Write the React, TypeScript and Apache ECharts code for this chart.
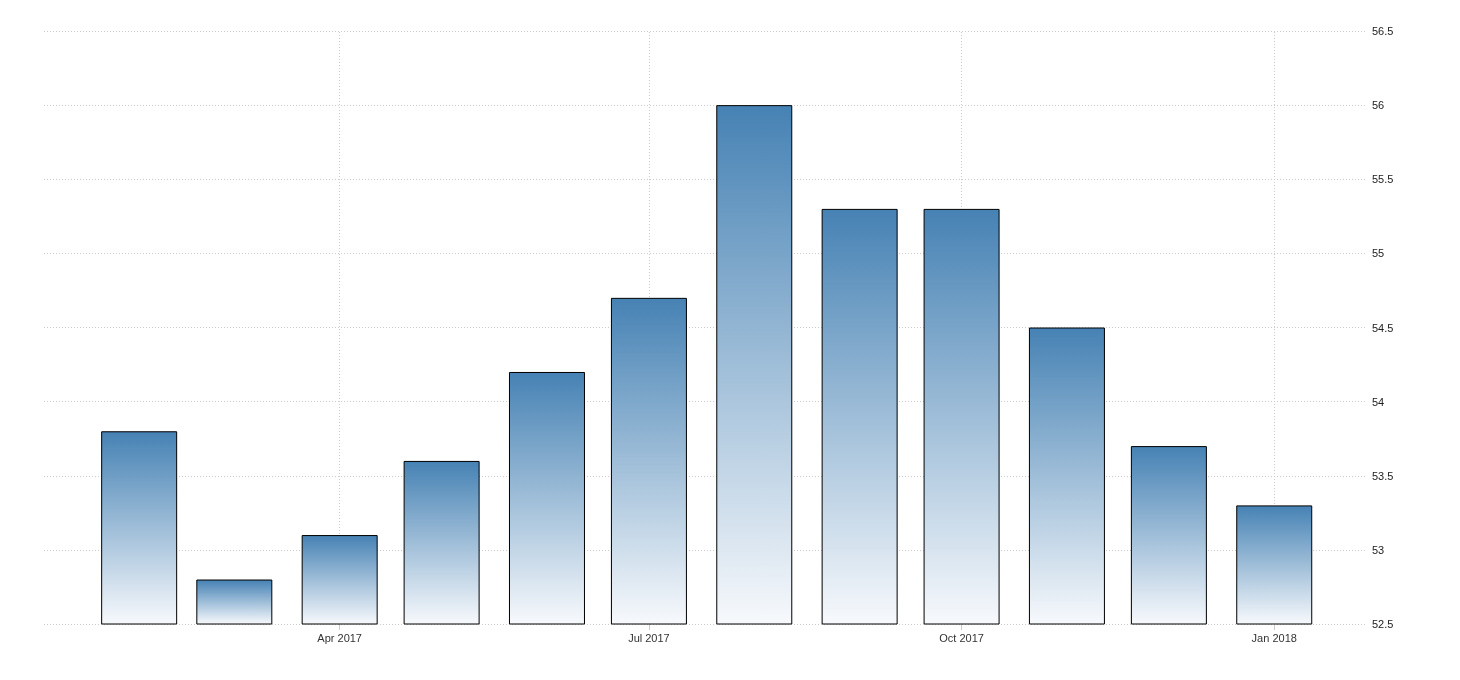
import React, { useEffect, useRef } from "react";
import * as echarts from "echarts";

const months: string[] = [
  "2017-02-01", "2017-03-01", "2017-04-01", "2017-05-01", "2017-06-01", "2017-07-01",
  "2017-08-01", "2017-09-01", "2017-10-01", "2017-11-01", "2017-12-01", "2018-01-01",
];
const values: number[] = [53.8, 52.8, 53.1, 53.6, 54.2, 54.7, 56.0, 55.3, 55.3, 54.5, 53.7, 53.3];
const tickDates: string[] = ["2017-04-01", "2017-07-01", "2017-10-01", "2018-01-01"];
const axisStart = "2017-01-04";
const axisEnd = "2018-01-28";
const yMin = 52.5;
const yMax = 56.5;
const yStep = 0.5;

const MONTH_NAMES = ["Jan", "Feb", "Mar", "Apr", "May", "Jun", "Jul", "Aug", "Sep", "Oct", "Nov", "Dec"];
const ts = (s: string) => {
  const [y, m, d] = s.split("-").map(Number);
  return Date.UTC(y, m - 1, d);
};

export default function App() {
  const ref = useRef<HTMLDivElement>(null);
  useEffect(() => {
    if (!ref.current) return;
    const chart = echarts.init(ref.current, undefined, { renderer: "svg" });
    const tickTs = tickDates.map(ts);
    const font = "'Liberation Sans', Arial, sans-serif";
    chart.setOption({
      animation: false,
      grid: { left: 44, right: 94, top: 31, bottom: 56, containLabel: false },
      xAxis: {
        type: "value",
        min: ts(axisStart),
        max: ts(axisEnd),
        axisLine: { show: false },
        axisTick: {
          show: true,
          customValues: tickTs,
          length: 6,
          lineStyle: { color: "#cccccc", width: 1 },
        },
        axisLabel: {
          customValues: tickTs,
          color: "#333333",
          fontSize: 11,
          fontFamily: font,
          margin: 8,
          formatter: (v: number) => {
            const d = new Date(v);
            return MONTH_NAMES[d.getUTCMonth()] + " " + d.getUTCFullYear();
          },
        },
        splitLine: { show: false },
      },
      yAxis: {
        type: "value",
        position: "right",
        min: yMin,
        max: yMax,
        interval: yStep,
        axisLine: { show: false },
        axisTick: { show: false },
        axisLabel: {
          color: "#222222",
          fontSize: 11,
          fontFamily: font,
          margin: 6,
          formatter: (v: number) => String(Math.round(v * 10) / 10),
        },
        splitLine: { show: true, lineStyle: { color: "#cccccc", type: [1, 2], width: 1 } },
      },
      series: [
        {
          type: "line",
          data: [],
          z: 0,
          silent: true,
          markLine: {
            z: 0,
            silent: true,
            symbol: "none",
            label: { show: false },
            lineStyle: { color: "#cccccc", type: [1, 2], width: 1 },
            data: tickTs.map((t) => ({ xAxis: t })),
          },
        },
        {
          type: "bar",
          z: 3,
          barWidth: 76,
          data: months.map((m, i) => [ts(m), values[i]]),
          itemStyle: {
            borderColor: "#000000",
            borderWidth: 1,
            color: new echarts.graphic.LinearGradient(0, 0, 0, 1, [
              { offset: 0, color: "#4682B4" },
              { offset: 1, color: "#F7F9FC" },
            ]),
          },
        },
      ],
    });
    return () => chart.dispose();
  }, []);
  return (
    <div
      ref={ref}
      style={{ position: "fixed", left: 0, top: 0, width: 1460, height: 680 }}
    />
  );
}
